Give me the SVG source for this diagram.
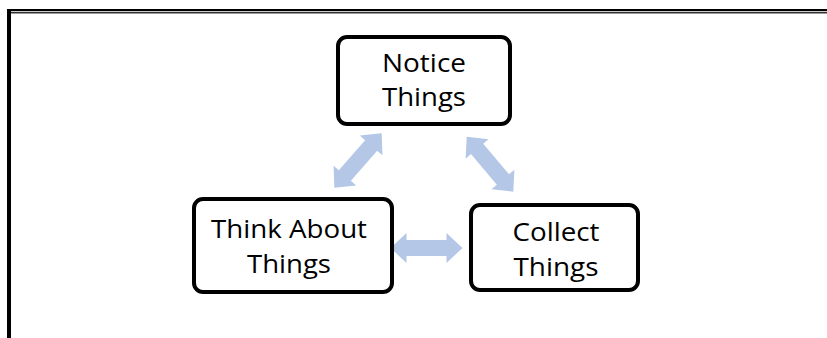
<svg xmlns="http://www.w3.org/2000/svg" width="827" height="338" viewBox="0 0 827 338">
<style>
.box{fill:#fff;stroke:#000;stroke-width:4}
.lbl{font-family:"Open Sans","Liberation Sans",sans-serif;font-size:26px;fill:#000;text-anchor:middle}
.arr{fill:#B4C7E7}
</style>
<defs>
<path id="dbl" d="M-36,0 L-20,-15 L-20,-8 L20,-8 L20,-15 L36,0 L20,15 L20,8 L-20,8 L-20,15 Z"/>
</defs>
<rect width="827" height="338" fill="#fff"/>
<g id="frame">
<rect x="7" y="9" width="820" height="2.2" fill="#000"/>
<rect x="11" y="12.2" width="816" height="1.2" fill="#000"/>
<rect x="7" y="9" width="4" height="329" fill="#000"/>
</g>
<g id="connectors">
<use href="#dbl" class="arr" transform="translate(358,160.5) rotate(-48.9)"/>
<use href="#dbl" class="arr" transform="translate(490,164.2) rotate(49.7)"/>
<use href="#dbl" class="arr" transform="translate(426.5,248)"/>
</g>
<g id="notice">
<rect class="box" x="338" y="37" width="172" height="87" rx="9"/>
<text class="lbl" x="424" y="72" textLength="84" lengthAdjust="spacingAndGlyphs">Notice</text>
<text class="lbl" x="424" y="106" textLength="84" lengthAdjust="spacingAndGlyphs">Things</text>
</g>
<g id="think">
<rect class="box" x="194" y="199" width="198" height="93" rx="9"/>
<text class="lbl" x="289" y="238" textLength="156" lengthAdjust="spacingAndGlyphs">Think About</text>
<text class="lbl" x="289" y="273" textLength="84" lengthAdjust="spacingAndGlyphs">Things</text>
</g>
<g id="collect">
<rect class="box" x="471" y="205" width="167" height="85" rx="9"/>
<text class="lbl" x="556" y="241" textLength="87" lengthAdjust="spacingAndGlyphs">Collect</text>
<text class="lbl" x="556" y="276" textLength="85" lengthAdjust="spacingAndGlyphs">Things</text>
</g>
</svg>
